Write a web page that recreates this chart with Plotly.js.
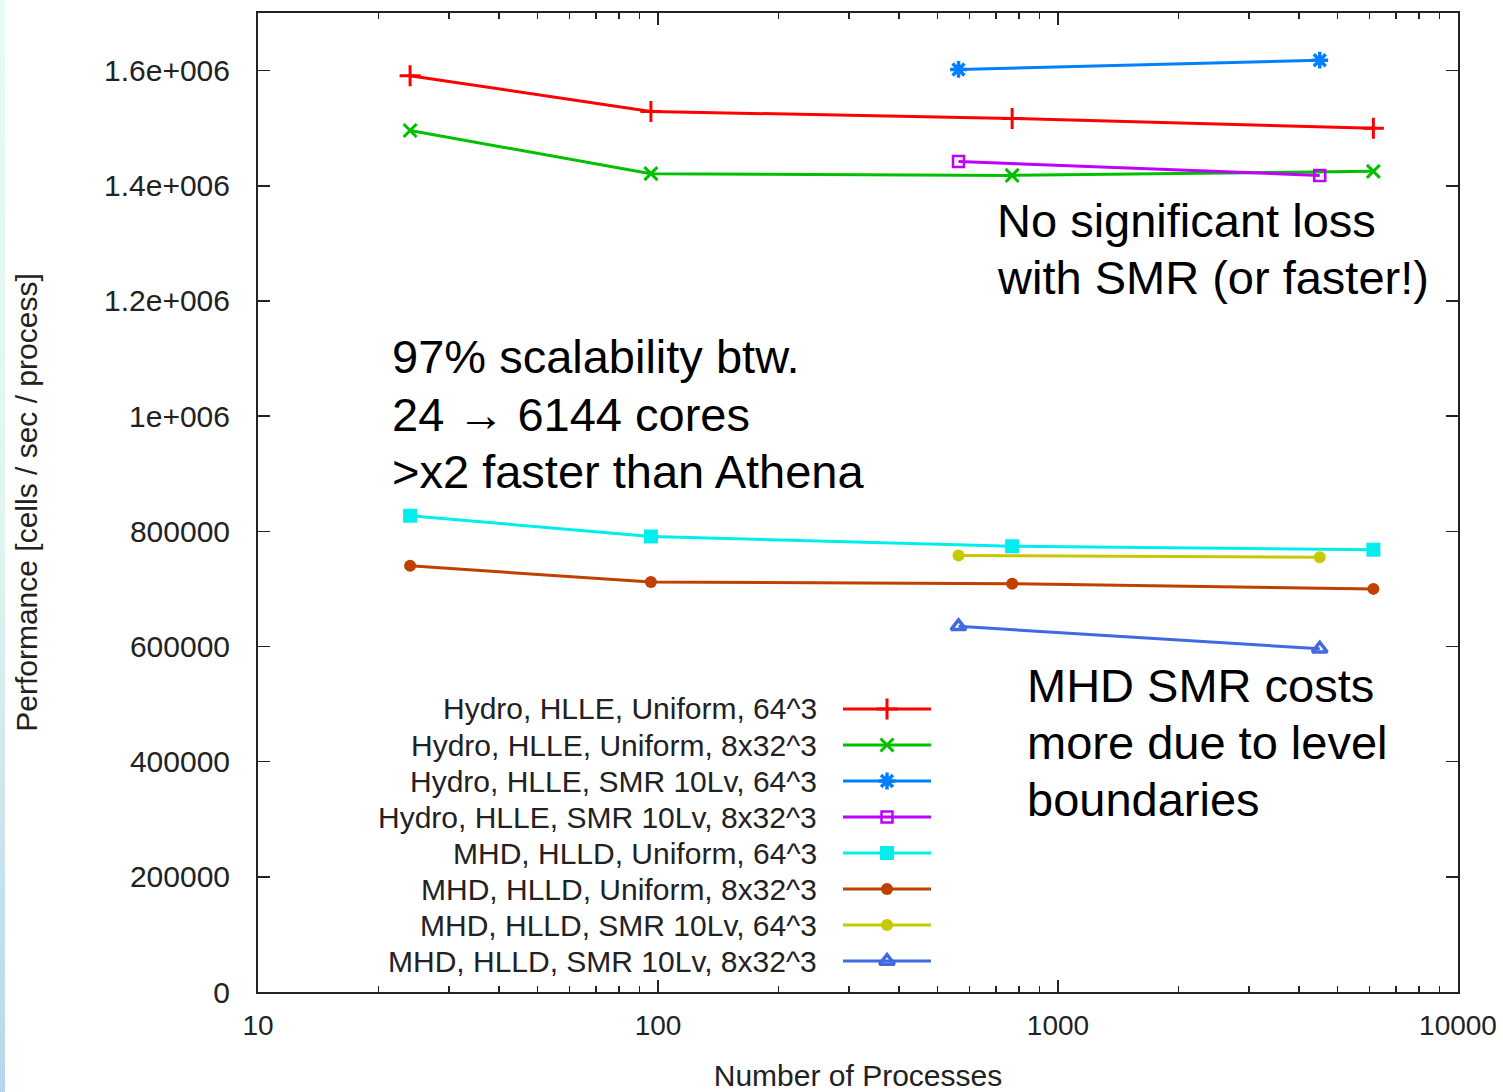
<!DOCTYPE html>
<html>
<head>
<meta charset="utf-8">
<script src="https://cdn.plot.ly/plotly-3.0.1.min.js"></script>
<style>
  html, body { margin: 0; padding: 0; background: #ffffff; }
  #strip { position: absolute; left: 0; top: 0; width: 5px; height: 1092px;
           background: linear-gradient(to bottom, #e8fbf1 0%, #dff5ee 50%, #b6d6ec 100%); z-index: 2; }
  #chart { width: 1503px; height: 1092px; }
</style>
</head>
<body>
<div id="strip"></div>
<div id="chart"></div>
<script>
// ---- data ----
const xUniform = [24, 96, 768, 6144];
const xSMR = [564, 4512];

const hydroUniform64 = [1591000, 1529000, 1517000, 1500000];
const hydroUniform8x32 = [1496000, 1421000, 1418000, 1425000];
const hydroSMR64 = [1602000, 1618000];
const hydroSMR8x32 = [1442000, 1418000];
const mhdUniform64 = [827000, 791000, 774000, 768000];
const mhdUniform8x32 = [740000, 712000, 709000, 700000];
const mhdSMR64 = [758000, 755000];
const mhdSMR8x32 = [635000, 596000];

const seriesNames = [
  "Hydro, HLLE, Uniform, 64^3",
  "Hydro, HLLE, Uniform, 8x32^3",
  "Hydro, HLLE, SMR 10Lv, 64^3",
  "Hydro, HLLE, SMR 10Lv, 8x32^3",
  "MHD, HLLD, Uniform, 64^3",
  "MHD, HLLD, Uniform, 8x32^3",
  "MHD, HLLD, SMR 10Lv, 64^3",
  "MHD, HLLD, SMR 10Lv, 8x32^3"
];

const yTickVals = [0, 200000, 400000, 600000, 800000, 1000000, 1200000, 1400000, 1600000];
const yTickText = ["0", "200000", "400000", "600000", "800000", "1e+006", "1.2e+006", "1.4e+006", "1.6e+006"];
const xTickVals = [10, 100, 1000, 10000];
const xTickText = ["10", "100", "1000", "10000"];

const xTitle = "Number of Processes";
const yTitle = "Performance [cells / sec / process]";

const noteLeft = ["97% scalability btw.", "24 \u2192 6144 cores", ">x2 faster than Athena"];
const noteTop = ["No significant loss", "with SMR (or faster!)"];
const noteBottom = ["MHD SMR costs", "more due to level", "boundaries"];

// ---- styles ----
const colors = ["#ff0000", "#00c000", "#0080ff", "#c000ff", "#00eeee", "#c04000", "#c8c800", "#4169e1"];
const symbols = ["cross-thin-open", "x-thin-open", "asterisk-open", "square-open", "square", "circle", "circle", "triangle-up-open"];
const msizes = [15, 13, 14, 11, 14, 12, 12, 13];
const mlw = [3, 3, 3.5, 2.5, 0, 0, 0, 3.5];

const seriesX = [xUniform, xUniform, xSMR, xSMR, xUniform, xUniform, xSMR, xSMR];
const seriesY = [hydroUniform64, hydroUniform8x32, hydroSMR64, hydroSMR8x32,
                 mhdUniform64, mhdUniform8x32, mhdSMR64, mhdSMR8x32];

// plot-area pixel geometry (for paper coords of texts)
const L = 258, R = 1458, T = 13, B = 992;
const W = 1503, H = 1092;
const px2x = p => (p - L) / (R - L);
const py2y = p => (B - p) / (B - T);

const traces = [];
seriesNames.forEach((name, i) => {
  traces.push({
    x: seriesX[i], y: seriesY[i], type: "scatter", mode: "lines+markers", name: name,
    line: { color: colors[i], width: 3 },
    marker: { symbol: symbols[i], size: msizes[i], color: colors[i],
              line: { color: colors[i], width: mlw[i] } },
    showlegend: false, hoverinfo: "x+y"
  });
});

// custom legend (text on the left, sample on the right, as in gnuplot)
const legRowTop = 691, legRowH = 36;
const legX0 = 843, legX1 = 931, legTextRight = 819;
seriesNames.forEach((name, i) => {
  traces.push({
    x: [0, 1], y: [i, i], xaxis: "x2", yaxis: "y2", type: "scatter", mode: "lines",
    line: { color: colors[i], width: 3 }, showlegend: false, hoverinfo: "skip"
  });
  traces.push({
    x: [0.5], y: [i], xaxis: "x2", yaxis: "y2", type: "scatter", mode: "markers",
    marker: { symbol: symbols[i], size: msizes[i], color: colors[i],
              line: { color: colors[i], width: mlw[i] } },
    showlegend: false, hoverinfo: "skip"
  });
});

const font = "Liberation Sans, Arial, Helvetica, sans-serif";
const annotations = [];
seriesNames.forEach((name, i) => {
  annotations.push({
    text: name, xref: "paper", yref: "paper",
    x: px2x(legTextRight), y: py2y(legRowTop + (i + 0.5) * legRowH),
    xanchor: "right", yanchor: "middle", showarrow: false,
    font: { family: font, size: 30, color: "#222" }
  });
});
function addNote(lines, leftPx, firstCenterPx, stepPx) {
  lines.forEach((t, k) => {
    annotations.push({
      text: t, xref: "paper", yref: "paper",
      x: px2x(leftPx), y: py2y(firstCenterPx + k * stepPx),
      xanchor: "left", yanchor: "middle", showarrow: false,
      font: { family: font, size: 47, color: "#000" }
    });
  });
}
addNote(noteLeft, 390, 357, 57);
addNote(noteTop, 995, 220, 57);
addNote(noteBottom, 1025, 685, 57);

const layout = {
  width: W, height: H,
  margin: { l: L, r: W - R, t: T, b: H - B, pad: 0 },
  paper_bgcolor: "#ffffff", plot_bgcolor: "#ffffff",
  showlegend: false,
  font: { family: font, color: "#222" },
  xaxis: {
    type: "log", range: [1, 4],
    tickvals: xTickVals, ticktext: xTickText,
    ticks: "inside", ticklen: 12, tickwidth: 1.5, tickcolor: "#222",
    minor: { dtick: "D1", ticks: "inside", ticklen: 6, tickwidth: 1.5, tickcolor: "#222", showgrid: false },
    showline: true, linecolor: "#222", linewidth: 2, mirror: "ticks",
    showgrid: false, zeroline: false,
    tickfont: { family: font, size: 28, color: "#222" },
    ticklabelstandoff: 7,
    title: { text: xTitle, font: { family: font, size: 30, color: "#222" }, standoff: 32 }
  },
  yaxis: {
    range: [0, 1700000],
    tickvals: yTickVals, ticktext: yTickText,
    ticks: "inside", ticklen: 12, tickwidth: 1.5, tickcolor: "#222",
    showline: true, linecolor: "#222", linewidth: 2, mirror: "ticks",
    showgrid: false, zeroline: false,
    tickfont: { family: font, size: 30, color: "#222" },
    ticklabelstandoff: 20,
    title: { text: yTitle, font: { family: font, size: 30, color: "#222" }, standoff: 58 }
  },
  xaxis2: {
    domain: [px2x(legX0), px2x(legX1)], range: [0, 1], anchor: "y2",
    visible: false, fixedrange: true
  },
  yaxis2: {
    domain: [py2y(legRowTop + 8 * legRowH), py2y(legRowTop)], range: [7.5, -0.5], anchor: "x2",
    visible: false, fixedrange: true
  },
  annotations: annotations
};

Plotly.newPlot("chart", traces, layout, { displayModeBar: false, staticPlot: true });
</script>
</body>
</html>
